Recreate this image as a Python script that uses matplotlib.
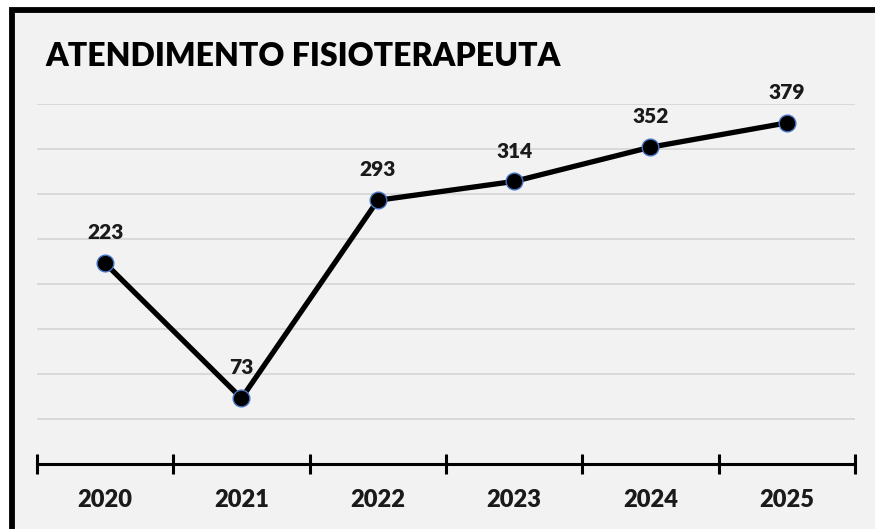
import matplotlib.pyplot as plt
from matplotlib.patches import Rectangle

years = ["2020", "2021", "2022", "2023", "2024", "2025"]
atendimentos = [223, 73, 293, 314, 352, 379]
titulo = "ATENDIMENTO FISIOTERAPEUTA"

plt.rcParams['font.family'] = ['Lato', 'DejaVu Sans']

W, H = 875, 529
fig = plt.figure(figsize=(W / 100, H / 100), dpi=100)
fig.patch.set_facecolor("white")

# chart background with thick black frame (left/top visible)
fig.patches.append(Rectangle((11.5 / W, -0.1), 1.2, (H - 10) / H + 0.1,
                             transform=fig.transFigure, facecolor="#f2f2f2",
                             edgecolor="black", linewidth=4.2, zorder=-5))

ax = fig.add_axes([37 / W, (H - 464) / H, (855 - 37) / W, (464 - 104) / H])
ax.set_facecolor("none")

x = list(range(len(years)))
ax.plot(x, atendimentos, color="black", linewidth=3.8, marker="o",
        markersize=12, markerfacecolor="black", markeredgecolor="#4472c4",
        markeredgewidth=1.0, zorder=3, solid_capstyle="round")

for xi, v in zip(x, atendimentos):
    ax.annotate(str(v), (xi, v), xytext=(0, 15), textcoords="offset points",
                ha="center", va="bottom", fontsize=15, fontweight="heavy",
                color="#1a1a1a")

ax.set_xlim(-0.5, len(years) - 0.5)
ax.set_ylim(0, 400)
ax.set_yticks(range(50, 401, 50))
ax.yaxis.grid(True, color="#d9d9d9", linewidth=1.4)
ax.tick_params(axis="y", left=False, labelleft=False)
ax.set_axisbelow(True)

for s in ["top", "right", "left"]:
    ax.spines[s].set_visible(False)
ax.spines["bottom"].set_linewidth(2.2)
ax.spines["bottom"].set_color("black")

ax.set_xticks([i - 0.5 for i in range(len(years) + 1)])
ax.set_xticklabels([])
ax.tick_params(axis="x", direction="inout", length=14, width=2.2, color="black")
ax.set_xticks(x, minor=True)
ax.set_xticklabels(years, minor=True, fontsize=17, fontweight="heavy", color="#1a1a1a")
ax.tick_params(axis="x", which="minor", length=0, pad=18)

fig.text(45 / W, 1 - 56 / H, titulo, ha="left", va="center",
         fontsize=23, fontweight="heavy", color="black")

fig.savefig("out.png", dpi=100)
